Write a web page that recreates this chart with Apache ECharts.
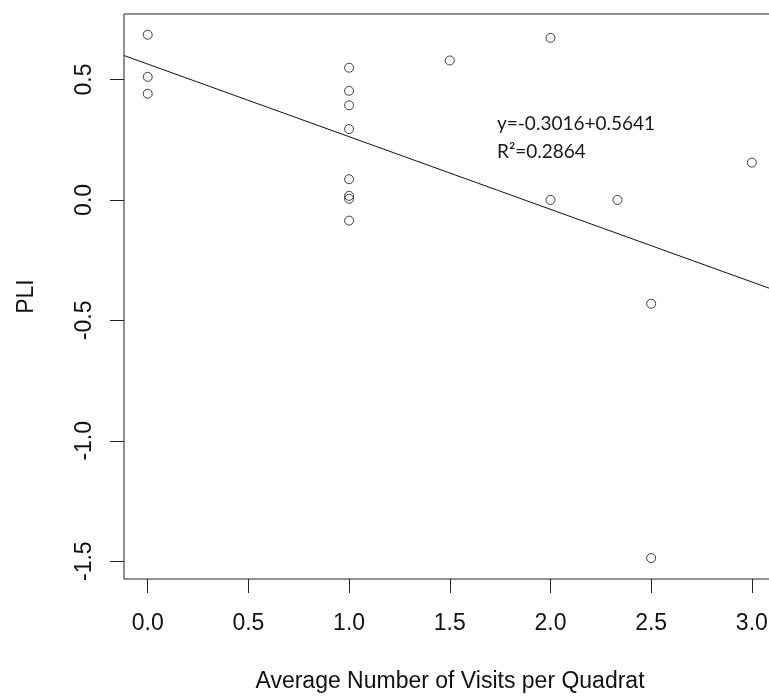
<!DOCTYPE html>
<html><head><meta charset="utf-8">
<script src="https://cdn.jsdelivr.net/npm/echarts@6/dist/echarts.min.js"></script>
<style>html,body{margin:0;padding:0;background:#fff}#c{width:769px;height:696px}</style>
</head><body><div id="c"></div>
<script>
// Data
const visits = [0, 0, 0, 1, 1, 1, 1, 1, 1, 1, 1, 1.5, 2, 2, 2.333, 2.5, 2.5, 3];
const pli = [0.686, 0.511, 0.441, 0.549, 0.453, 0.393, 0.294, 0.086, 0.017, 0.005, -0.086, 0.579, 0.673, 0.0, 0.0, -0.431, -1.487, 0.155];
const xTicks = [0, 0.5, 1, 1.5, 2, 2.5, 3];
const yTicks = [-1.5, -1, -0.5, 0, 0.5];
const fitIntercept = [0.5641];
const fitSlope = [-0.3016];
const annotationLines = ['y=-0.3016+0.5641', 'R\u00B2=0.2864'];
const xRange = [-0.1177, 3.12];
const yRange = [-1.574, 0.772];
const xTitle = 'Average Number of Visits per Quadrat';
const yTitle = 'PLI';

const chart = echarts.init(document.getElementById('c'), null, {renderer: 'canvas'});
const axisFont = 'Liberation Sans';
const txtColor = '#111';
const fitLine = xRange.map(x => [x, fitIntercept[0] + fitSlope[0] * x]);

chart.setOption({
  animation: false,
  backgroundColor: '#fff',
  grid: {left: 124, top: 14, right: -7, bottom: 117, show: true, borderColor: '#222', borderWidth: 1,
         containLabel: false, outerBoundsMode: 'none'},
  xAxis: {
    type: 'value', min: xRange[0], max: xRange[1],
    splitLine: {show: false},
    axisLine: {show: false, onZero: false},
    axisTick: {show: true, inside: false, length: 14, customValues: xTicks, lineStyle: {color: '#222', width: 1}},
    axisLabel: {customValues: xTicks, formatter: v => Number(v).toFixed(1), fontSize: 23, fontFamily: axisFont, color: txtColor, margin: 33},
    name: xTitle, nameLocation: 'middle', nameGap: 91,
    nameTextStyle: {fontSize: 23, fontFamily: axisFont, color: txtColor}
  },
  yAxis: {
    type: 'value', min: yRange[0], max: yRange[1],
    splitLine: {show: false},
    axisLine: {show: false, onZero: false},
    axisTick: {show: true, inside: false, length: 14, customValues: yTicks, lineStyle: {color: '#222', width: 1}},
    axisLabel: {customValues: yTicks, rotate: 90, formatter: v => Number(v).toFixed(1), fontSize: 23, fontFamily: axisFont, color: txtColor, margin: 28},
    name: yTitle, nameLocation: 'middle', nameGap: 86, nameRotate: 90,
    nameTextStyle: {fontSize: 23, fontFamily: axisFont, color: txtColor}
  },
  series: [
    {
      type: 'scatter', symbol: 'circle', symbolSize: 9,
      itemStyle: {color: 'rgba(0,0,0,0)', borderColor: '#111', borderWidth: 1},
      data: visits.map((x, i) => [x, pli[i]]),
      silent: true
    },
    {
      type: 'line', data: fitLine, showSymbol: false, symbol: 'none',
      lineStyle: {color: '#111', width: 1}, silent: true, clip: true
    }
  ],
  graphic: [{
    type: 'text', left: 497, top: 110,
    style: {text: annotationLines.join('\n'), font: '19px Lato', fill: '#1a1a1a', lineHeight: 28}
  }]
});
</script></body></html>
